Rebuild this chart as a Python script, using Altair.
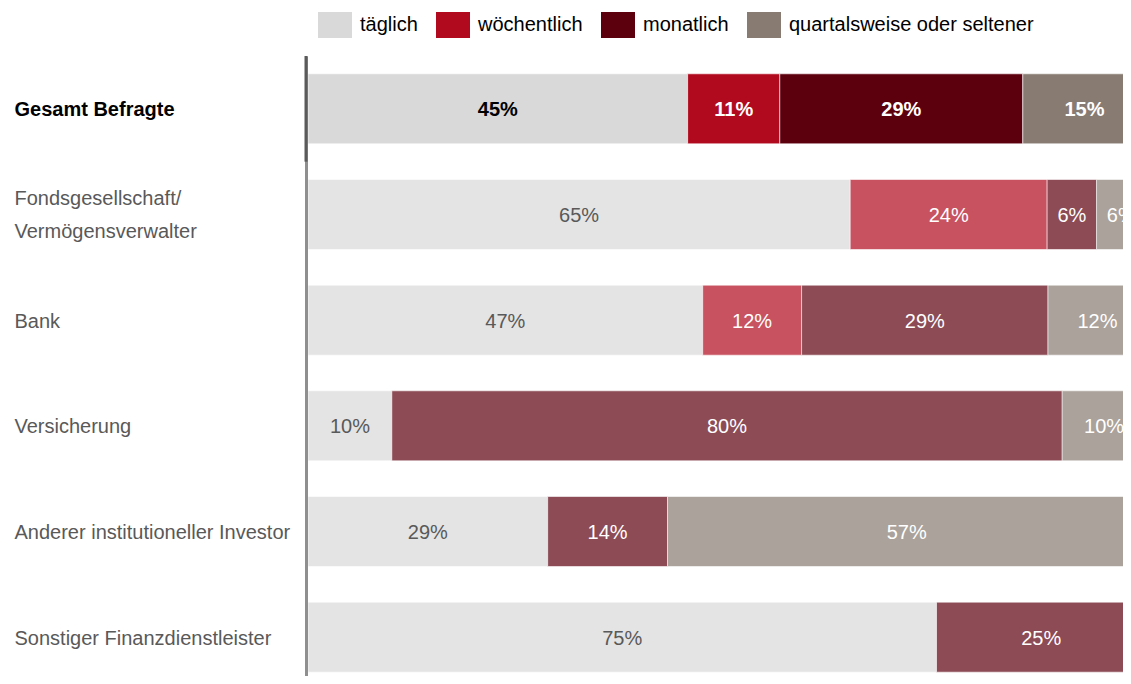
import altair as alt
import pandas as pd

categories = [
    "Gesamt Befragte",
    "Fondsgesellschaft/|Vermögensverwalter",
    "Bank",
    "Versicherung",
    "Anderer institutioneller Investor",
    "Sonstiger Finanzdienstleister",
]
series = ["täglich", "wöchentlich", "monatlich", "quartalsweise oder seltener"]
taeglich = [45.3, 64.7, 47.1, 10.0, 28.6, 75.0]
woechentlich = [11.0, 23.5, 11.8, 0.0, 0.0, 0.0]
monatlich = [29.0, 5.9, 29.4, 80.0, 14.3, 25.0]
quartal = [14.7, 5.9, 11.8, 10.0, 57.1, 0.0]
colors = ["#D9D9D9", "#B10A1E", "#5C000E", "#877B72"]

rows = []
for s_i, (s, vals) in enumerate(zip(series, [taeglich, woechentlich, monatlich, quartal])):
    for c, v in zip(categories, vals):
        rows.append({"cat": c, "series": s, "idx": s_i, "value": v})
df = pd.DataFrame(rows)

FONT = "Liberation Sans"
FS = 20
W = 815
H = 620
PX_PER_PCT = 8.38
XMAX = W / PX_PER_PCT
STEP = 105.67
FIRST = categories[0]
TWO_LINE = categories[1]

base = (
    alt.Chart(df)
    .transform_filter("datum.value > 0")
    .transform_stack(stack="value", as_=["x0", "x1"], groupby=["cat"],
                     sort=[alt.SortField("idx", order="ascending")])
    .transform_calculate(mid="(datum.x0 + datum.x1) / 2",
                         lbl="format(datum.value, '.0f') + '%'")
)

yenc = alt.Y(
    "cat:N",
    sort=categories,
    scale=alt.Scale(paddingInner=0.337, paddingOuter=0.1022, align=0.824),
    axis=alt.Axis(
        title=None,
        ticks=False,
        tickSize=0,
        labelPadding=292,
        offset=2,
        labelAlign="left",
        labelBaseline="middle",
        labelFont=FONT,
        labelFontSize=FS,
        labelLineHeight=33,
        labelLimit=0,
        labelExpr="split(datum.label, '|')",
        labelOffset={"condition": {"test": f"datum.value == '{TWO_LINE}'", "value": -15}, "value": 1.5},
        labelColor={"condition": {"test": f"datum.value == '{FIRST}'", "value": "#000000"}, "value": "#595959"},
        labelFontWeight={"condition": {"test": f"datum.value == '{FIRST}'", "value": "bold"}, "value": "normal"},
        domain=True,
        domainColor="#8f8f8f",
        domainWidth=3,
    ),
)

xscale = alt.Scale(domain=[0, XMAX], nice=False, zero=True)

bars = base.mark_bar(stroke="white", strokeWidth=0.6, clip=True).encode(
    y=yenc,
    x=alt.X("x0:Q", scale=xscale, axis=None),
    x2="x1:Q",
    color=alt.Color(
        "series:N",
        scale=alt.Scale(domain=series, range=colors),
        legend=alt.Legend(
            orient="none",
            legendX=10,
            legendY=-48,
            direction="horizontal",
            title=None,
            symbolType="M-1,-0.76H1V0.76H-1Z",
            symbolSize=1156,
            symbolStrokeWidth=0,
            symbolOpacity=1,
            labelFont=FONT,
            labelFontSize=FS,
            labelColor="#000000",
            labelOffset=8,
            columnPadding=18,
            labelLimit=0,
            padding=0,
        ),
        sort=series,
    ),
    opacity=alt.condition(f"datum.cat == '{FIRST}'", alt.value(1.0), alt.value(0.7)),
    order=alt.Order("idx:Q"),
)

textcolor = (
    f"datum.cat == '{FIRST}' ? (datum.series == 'täglich' ? '#000000' : '#ffffff')"
    " : (datum.series == 'täglich' ? '#595959' : '#ffffff')"
)

labels_first = (
    base.transform_filter(f"datum.cat == '{FIRST}'")
    .transform_calculate(tc=textcolor)
    .mark_text(font=FONT, fontSize=FS, fontWeight="bold", baseline="middle", align="center",
               clip=True, dy=1.5)
    .encode(y=alt.Y("cat:N", sort=categories), x=alt.X("mid:Q", scale=xscale), text="lbl:N",
            color=alt.Color("tc:N", scale=None))
)
labels_rest = (
    base.transform_filter(f"datum.cat != '{FIRST}'")
    .transform_calculate(tc=textcolor)
    .mark_text(font=FONT, fontSize=FS, fontWeight="normal", baseline="middle", align="center",
               clip=True, dy=1.5)
    .encode(y=alt.Y("cat:N", sort=categories), x=alt.X("mid:Q", scale=xscale), text="lbl:N",
            color=alt.Color("tc:N", scale=None))
)

dark_rule = alt.Chart(pd.DataFrame({"cat": [FIRST]})).mark_rule(
    color="#5a5a5a", strokeWidth=3
).encode(x=alt.value(-2), y=alt.value(0), y2=alt.value(STEP))

chart = (
    alt.layer(bars, labels_first, labels_rest, dark_rule)
    .resolve_scale(color="independent")
    .properties(width=W, height=H, padding={"left": 6, "top": 0, "right": 0, "bottom": 0})
    .configure_view(stroke=None)
)

chart.save("out.html", embed_options={"renderer": "svg", "actions": False})
